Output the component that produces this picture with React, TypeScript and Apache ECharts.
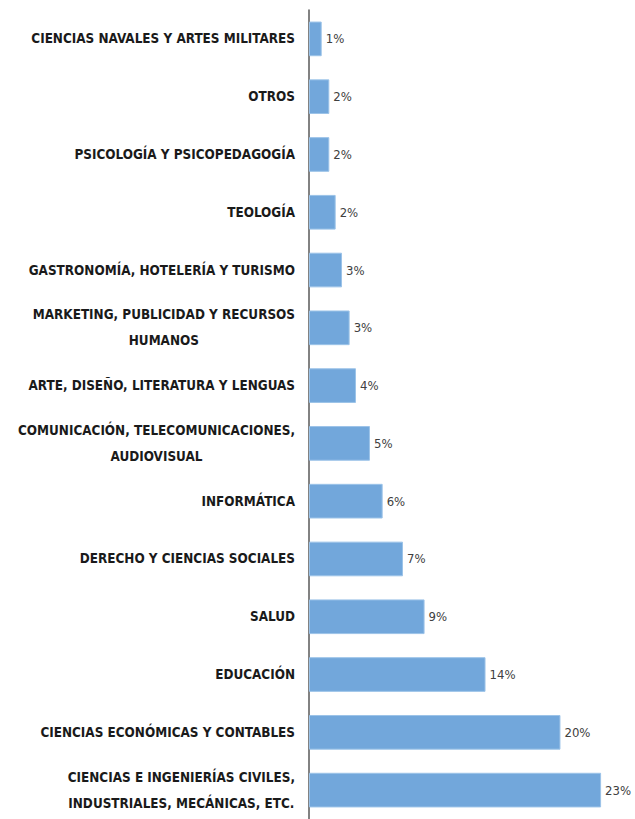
import React, { useEffect, useRef } from "react";
import * as echarts from "echarts";

const categories: string[][] = [
  ["CIENCIAS NAVALES Y ARTES MILITARES"],
  ["OTROS"],
  ["PSICOLOGÍA Y PSICOPEDAGOGÍA"],
  ["TEOLOGÍA"],
  ["GASTRONOMÍA, HOTELERÍA Y TURISMO"],
  ["MARKETING, PUBLICIDAD Y RECURSOS", "HUMANOS"],
  ["ARTE, DISEÑO, LITERATURA Y LENGUAS"],
  ["COMUNICACIÓN, TELECOMUNICACIONES,", "AUDIOVISUAL"],
  ["INFORMÁTICA"],
  ["DERECHO Y CIENCIAS SOCIALES"],
  ["SALUD"],
  ["EDUCACIÓN"],
  ["CIENCIAS ECONÓMICAS Y CONTABLES"],
  ["CIENCIAS E INGENIERÍAS CIVILES,", "INDUSTRIALES, MECÁNICAS, ETC."],
];

const values: number[] = [1.0, 1.6, 1.6, 2.1, 2.6, 3.2, 3.7, 4.8, 5.8, 7.4, 9.1, 13.9, 19.8, 23.0];
const valueLabels: string[] = ["1%", "2%", "2%", "2%", "3%", "3%", "4%", "5%", "6%", "7%", "9%", "14%", "20%", "23%"];

const FONT = "'DejaVu Sans Condensed', 'Liberation Sans', sans-serif";

export default function App() {
  const ref = useRef<HTMLDivElement>(null);
  useEffect(() => {
    document.body.style.margin = "0";
    const chart = echarts.init(ref.current!, null, { renderer: "svg" });
    const catNames = categories.map((c) => c.join("\n"));
    chart.setOption({
      animation: false,
      backgroundColor: "#ffffff",
      grid: { left: 309, top: 10, height: 814, right: 8.5 },
      xAxis: { type: "value", min: 0, max: 25, show: false },
      yAxis: {
        type: "category",
        inverse: true,
        data: catNames,
        axisTick: { show: false },
        axisLine: { lineStyle: { color: "#595959", width: 1.5 } },
        axisLabel: {
          margin: 14,
          formatter: (v: string) => v.split("\n").map((l) => `{c|${l}}`).join("\n"),
          rich: {
            c: {
              align: "center",
              fontFamily: FONT,
              fontWeight: "bold",
              fontSize: 13.4,
              color: "#1a1a1a",
              lineHeight: 26,
            },
          },
        },
      },
      series: [
        {
          type: "bar",
          data: values,
          barCategoryGap: "40%",
          itemStyle: { color: "#72a7db", borderColor: "#9cc3e8", borderWidth: 1 },
          label: {
            show: true,
            position: "right",
            distance: 4,
            formatter: (p: any) => valueLabels[p.dataIndex],
            fontFamily: FONT,
            fontSize: 13,
            color: "#404040",
          },
        },
      ],
    });
    return () => chart.dispose();
  }, []);
  return <div ref={ref} style={{ width: 635, height: 819 }} />;
}
